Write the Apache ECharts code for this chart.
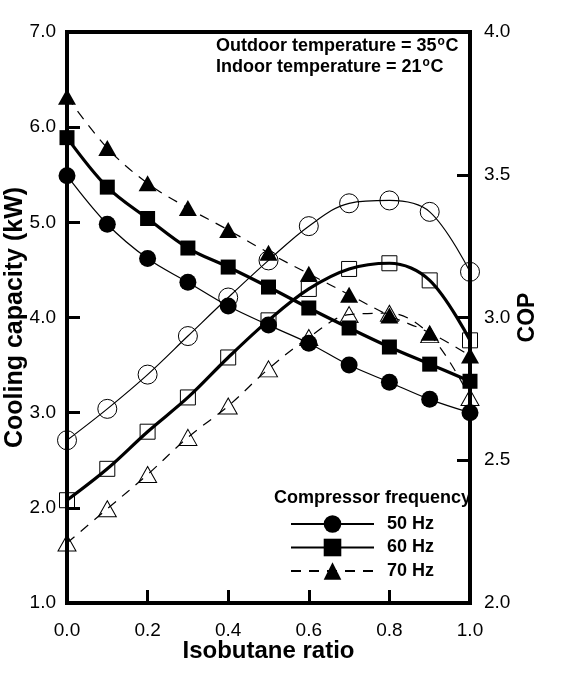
<!DOCTYPE html>
<html>
<head>
<meta charset="utf-8">
<script src="https://cdn.jsdelivr.net/npm/echarts@6/dist/echarts.min.js"></script>
<style>
html,body{margin:0;padding:0;background:#fff;}
#chart{width:569px;height:676px;}
</style>
</head>
<body>
<div id="chart"></div>
<script>
var ratio = [0.0, 0.1, 0.2, 0.3, 0.4, 0.5, 0.6, 0.7, 0.8, 0.9, 1.0];
var cap50 = [5.49, 4.98, 4.62, 4.37, 4.12, 3.92, 3.73, 3.50, 3.32, 3.14, 3.00];
var cap60 = [5.89, 5.37, 5.04, 4.73, 4.53, 4.32, 4.10, 3.89, 3.69, 3.51, 3.33];
var cap70 = [6.32, 5.78, 5.41, 5.15, 4.92, 4.68, 4.46, 4.24, 4.02, 3.84, 3.60];
var cop50 = [2.57, 2.68, 2.80, 2.935, 3.07, 3.20, 3.32, 3.40, 3.41, 3.37, 3.16];
var cop60 = [2.36, 2.47, 2.60, 2.72, 2.86, 2.99, 3.10, 3.17, 3.19, 3.13, 2.92];
var cop70 = [2.21, 2.33, 2.45, 2.58, 2.69, 2.82, 2.93, 3.01, 3.015, 2.94, 2.72];
var legendNames = ['50 Hz', '60 Hz', '70 Hz'];
var noteLines = [['Outdoor temperature = 35', 'o', 'C'], ['Indoor temperature = 21', 'o', 'C']];

function pairs(ys) { return ratio.map(function (x, i) { return [x, ys[i]]; }); }

var FONT = '"Liberation Sans", Arial, sans-serif';
var chart = echarts.init(document.getElementById('chart'), null, {renderer: 'canvas'});

var mctx = document.createElement('canvas').getContext('2d');
function textW(t, font) { mctx.font = font; return mctx.measureText(t).width; }

function capSeries(name, ys, symbol, size, lw, ltype) {
  return {
    name: name, type: 'line', yAxisIndex: 0, data: pairs(ys), smooth: 0.35,
    symbol: symbol, symbolSize: size, showAllSymbol: true,
    lineStyle: {color: '#000', width: lw, type: ltype},
    itemStyle: {color: '#000', borderColor: '#000', borderWidth: 0},
    z: 3, animation: false, clip: false
  };
}
function copSeries(name, ys, symbol, size, lw, ltype) {
  return {
    name: name, type: 'line', yAxisIndex: 1, data: pairs(ys), smooth: 0.35,
    symbol: symbol, symbolSize: size, showAllSymbol: true,
    lineStyle: {color: '#000', width: lw, type: ltype},
    itemStyle: {color: 'rgba(0,0,0,0)', borderColor: '#000', borderWidth: 1},
    z: 2, animation: false, clip: false
  };
}

var graphics = [];
var bFont = 'bold 18px ' + FONT;
var sFont = 'bold 12px ' + FONT;
noteLines.forEach(function (ln, i) {
  var x0 = 216, y0 = 37 + i * 21;
  var w1 = textW(ln[0], bFont);
  var w2 = textW(ln[1], sFont);
  graphics.push({type: 'text', x: x0, y: y0, z: 10, style: {text: ln[0], font: bFont, fill: '#000', textVerticalAlign: 'top'}});
  graphics.push({type: 'text', x: x0 + w1 + 1, y: y0 - 1, z: 10, style: {text: ln[1], font: sFont, fill: '#000', textVerticalAlign: 'top'}});
  graphics.push({type: 'text', x: x0 + w1 + w2 + 1.5, y: y0, z: 10, style: {text: ln[2], font: bFont, fill: '#000', textVerticalAlign: 'top'}});
});
graphics.push({type: 'text', x: 274, y: 489, z: 10, style: {
  text: 'Compressor frequency', font: bFont, fill: '#000', textVerticalAlign: 'top'
}});

var option = {
  backgroundColor: '#fff',
  animation: false,
  grid: {left: 67, right: 99, top: 32, bottom: 73, containLabel: false, outerBoundsMode: 'none',
    show: true, borderColor: '#000', borderWidth: 4, backgroundColor: 'transparent'},
  xAxis: {
    type: 'value', min: 0, max: 1, interval: 0.2,
    name: 'Isobutane ratio', nameLocation: 'middle', nameGap: 36, nameMoveOverlap: false,
    nameTextStyle: {fontFamily: FONT, fontSize: 24, fontWeight: 'bold', color: '#000'},
    axisLine: {show: true, onZero: false, lineStyle: {color: '#000', width: 4}},
    axisTick: {show: true, inside: true, length: 13, lineStyle: {color: '#000', width: 3}},
    axisLabel: {margin: 18, fontFamily: FONT, fontSize: 19, color: '#000',
      formatter: function (v) { return v.toFixed(1); }},
    splitLine: {show: false}
  },
  yAxis: [{
    type: 'value', min: 1, max: 7, interval: 1, position: 'left',
    name: 'Cooling capacity (kW)', nameLocation: 'middle', nameGap: 39, nameRotate: 90, nameMoveOverlap: false,
    nameTextStyle: {fontFamily: FONT, fontSize: 25, fontWeight: 'bold', color: '#000'},
    axisLine: {show: true, onZero: false, lineStyle: {color: '#000', width: 4}},
    axisTick: {show: true, inside: true, length: 13, lineStyle: {color: '#000', width: 3}},
    axisLabel: {margin: 11, fontFamily: FONT, fontSize: 19, color: '#000',
      formatter: function (v) { return v.toFixed(1); }},
    splitLine: {show: false}
  }, {
    type: 'value', min: 2, max: 4, interval: 0.5, position: 'right',
    name: 'COP', nameLocation: 'middle', nameGap: 46, nameRotate: 90, nameMoveOverlap: false,
    nameTextStyle: {fontFamily: FONT, fontSize: 23, fontWeight: 'bold', color: '#000'},
    axisLine: {show: true, onZero: false, lineStyle: {color: '#000', width: 4}},
    axisTick: {show: true, inside: true, length: 13, lineStyle: {color: '#000', width: 3}},
    axisLabel: {margin: 14, fontFamily: FONT, fontSize: 19, color: '#000',
      formatter: function (v) { return v.toFixed(1); }},
    splitLine: {show: false}
  }],
  legend: {
    data: legendNames, orient: 'vertical', left: 285, top: 510,
    itemWidth: 83, itemHeight: 22, itemGap: 5.5,
    textStyle: {fontFamily: FONT, fontSize: 18, fontWeight: 'bold', color: '#000', padding: [0, 0, 0, 8]},
    selectedMode: false
  },
  graphic: graphics,
  series: [
    copSeries('50 Hz COP', cop50, 'circle', 19, 1.2, 'solid'),
    copSeries('60 Hz COP', cop60, 'rect', 15, 3.2, 'solid'),
    copSeries('70 Hz COP', cop70, 'triangle', [18, 16], 1.2, [10, 8]),
    capSeries('50 Hz', cap50, 'circle', 17, 1.2, 'solid'),
    capSeries('60 Hz', cap60, 'rect', 15, 3.2, 'solid'),
    capSeries('70 Hz', cap70, 'triangle', [18, 16], 1.2, [10, 8])
  ]
};
chart.setOption(option);
</script>
</body>
</html>
